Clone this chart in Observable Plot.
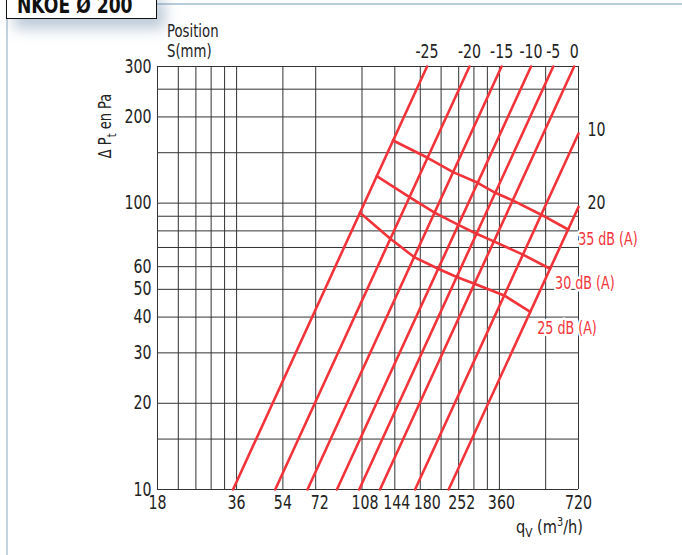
<!DOCTYPE html>
<html>
<head>
<meta charset="utf-8">
<script src="https://cdn.jsdelivr.net/npm/d3@7"></script>
<script src="https://cdn.jsdelivr.net/npm/@observablehq/plot@0.6"></script>
<style>
  html, body { margin: 0; padding: 0; background: #fff; }
  #page { position: relative; width: 682px; height: 555px; overflow: hidden; }
  #frame-top { position: absolute; left: 150px; top: 3px; width: 540px; height: 2px; background: #b9ccda; }
  #frame-left { position: absolute; left: 6px; top: 10px; width: 2px; height: 560px; background: #c3d3df; }
  #title {
    position: absolute; left: 6px; top: -11px; width: 151px; height: 30px;
    border: 1.5px solid #111; background: #fff;
    box-shadow: 8px 10px 14px rgba(110, 140, 170, 0.45);
    box-sizing: border-box; z-index: 2; overflow: hidden;
  }
  #title span {
    position: absolute; left: 10px; top: 4px; white-space: nowrap;
    font-family: "DejaVu Sans", sans-serif; font-stretch: condensed;
    font-weight: bold; font-size: 23px; line-height: 1; color: #111;
    transform: scaleX(0.83); transform-origin: left center;
  }
  #chart { position: absolute; left: 0; top: 0; }
</style>
</head>
<body>
<div id="page">
  <div id="frame-top"></div>
  <div id="frame-left"></div>
  <div id="chart"></div>
  <div id="title"><span>NKOE Ø 200</span></div>
</div>
<script>
// Flow axis (m³/h), pressure axis (Pa)
const xTicks = [18, 36, 54, 72, 108, 144, 180, 252, 360, 720];
const xGrid = [18, 21.6, 25.2, 28.8, 32.4, 36, 54, 72, 108, 144, 180, 216, 252, 288, 324, 360, 540, 720];
const yTicks = [10, 20, 30, 40, 50, 60, 100, 200, 300];
const yGrid = [10, 15, 20, 30, 40, 50, 60, 70, 80, 90, 100, 150, 200, 250, 300];

// Damper position lines S (mm): flow at 10 Pa and the end point of each line
const positions = ["-25", "-20", "-15", "-10", "-5", "0", "10", "20"];
const qLow = [34.9, 50.5, 67, 86.7, 105.4, 126.5, 172, 230.8];
const qHigh = [191, 277, 367, 475, 577, 693, 720, 720];
const pHigh = [300, 300, 300, 300, 300, 300, 175, 97];

// Sound level curves: pressure where each curve meets each position line
const noiseLabels = ["35 dB (A)", "30 dB (A)", "25 dB (A)"];
const noise35 = [165.5, 144, 128.3, 117.8, 108.7, 102.2, 91.1, 80.9];
const noise30 = [124.2, 105, 92.6, 84, 78.2, 73.5, 66.1, 59.0];
const noise25 = [92.6, 75.1, 64.8, 59.0, 55.2, 52.3, 47.6, 41.7];

const red = "#f2333a";
const ink = "#222";
const font = "'DejaVu Sans', sans-serif";

// Position lines as two-point segments
const posLines = positions.flatMap((s, i) => [
  {s, q: qLow[i], p: 10},
  {s, q: qHigh[i], p: pHigh[i]}
]);

// Point on position line i at pressure p (straight line on log-log axes)
function qOnLine(i, p) {
  const la = Math.log(qLow[i]), lb = Math.log(qHigh[i]);
  const pa = Math.log(10), pb = Math.log(pHigh[i]);
  return Math.exp(la + (Math.log(p) - pa) * (lb - la) / (pb - pa));
}
const noiseSets = [noise35, noise30, noise25];
const noisePts = noiseSets.flatMap((arr, k) =>
  arr.map((p, i) => ({level: noiseLabels[k], q: qOnLine(i, p), p}))
);
const noiseEnds = noiseSets.map((arr, k) => {
  const i = arr.length - 1;
  return {level: noiseLabels[k], q: qOnLine(i, arr[i]), p: arr[i]};
});
const noiseDx = [10, 5, 7];
const noiseDy = [10, 15, 17];

const topLabels = positions.map((s, i) => ({s, q: qHigh[i], p: pHigh[i]})).filter(d => d.p === 300);
const sideLabels = positions.map((s, i) => ({s, q: qHigh[i], p: pHigh[i]})).filter(d => d.p !== 300);

// small horizontal nudges keep the crowded flow labels apart
const xLabelNudge = {72: 4, 108: 3, 144: 2, 180: 7, 252: 3, 360: 2};

const textStyle = {fontFamily: font, fontStretch: "condensed"};

const chart = Plot.plot({
  width: 682,
  height: 555,
  marginLeft: 157,
  marginRight: 104,
  marginTop: 66,
  marginBottom: 66,
  style: {fontFamily: font, fontStretch: "condensed", fontSize: "17px", color: ink, background: "transparent"},
  x: {type: "log", domain: [18, 720], axis: null},
  y: {type: "log", domain: [10, 300], axis: null},
  marks: [
    Plot.ruleX(xGrid, {x: d => d, stroke: "#333", strokeWidth: 1}),
    Plot.ruleY(yGrid, {y: d => d, stroke: "#333", strokeWidth: 1}),
    Plot.line(posLines, {x: "q", y: "p", z: "s", stroke: red, strokeWidth: 2.6}),
    Plot.line(noisePts, {x: "q", y: "p", z: "level", stroke: red, strokeWidth: 2.6}),
    ...noiseEnds.map((d, k) => Plot.text([d], {
      x: "q", y: "p", text: "level", dx: noiseDx[k], dy: noiseDy[k], textAnchor: "start",
      fill: red, stroke: "white", strokeWidth: 5, fontSize: 17, ...textStyle
    })),
    Plot.text(topLabels, {x: "q", y: "p", text: "s", dy: -15, fill: ink, fontSize: 19, ...textStyle}),
    Plot.text(sideLabels, {x: "q", y: "p", text: "s", dx: 9, dy: -4, textAnchor: "start", fill: ink, fontSize: 19, ...textStyle}),
    // flow tick labels below the grid
    ...xTicks.map(v => Plot.text([v], {
      x: d => d, frameAnchor: "bottom", lineAnchor: "top", dy: 6, dx: xLabelNudge[v] || 0,
      text: d => String(d), fill: ink, fontSize: 19, ...textStyle
    })),
    // pressure tick labels left of the grid
    Plot.text(yTicks, {
      y: d => d, frameAnchor: "left", textAnchor: "end", dx: -6,
      text: d => String(d), fill: ink, fontSize: 19, ...textStyle
    })
  ]
});
document.getElementById("chart").appendChild(chart);

// Narrow the glyphs horizontally around each text's own anchor
function squeeze(node, s) {
  const tr = node.getAttribute("transform");
  if (tr) {
    node.setAttribute("transform", `${tr} scale(${s},1)`);
  } else {
    const x = +node.getAttribute("x") || 0, y = +node.getAttribute("y") || 0;
    node.setAttribute("transform", `translate(${x},${y}) scale(${s},1) translate(${-x},${-y})`);
  }
}
const svg = d3.select(chart);
svg.selectAll("text").each(function() { squeeze(this, 0.83); });

// Axis titles with subscripts
const yTitle = svg.append("text")
  .attr("transform", "translate(111,126) rotate(-90) scale(0.85,1)")
  .attr("text-anchor", "middle")
  .attr("font-family", font).attr("font-stretch", "condensed")
  .attr("font-size", 17).attr("fill", ink);
yTitle.append("tspan").text("Δ P");
yTitle.append("tspan").attr("font-size", 13).attr("dy", 5).text("t");
yTitle.append("tspan").attr("dy", -5).text(" en Pa");

const xTitle = svg.append("text")
  .attr("transform", "translate(516,533) scale(0.9,1)")
  .attr("text-anchor", "start")
  .attr("font-family", font).attr("font-stretch", "condensed")
  .attr("font-size", 18).attr("fill", ink);
xTitle.append("tspan").text("q");
xTitle.append("tspan").attr("font-size", 13).attr("dy", 4).text("V");
xTitle.append("tspan").attr("dy", -4).text(" (m");
xTitle.append("tspan").attr("font-size", 12).attr("dy", -7).text("3");
xTitle.append("tspan").attr("dy", 7).text("/h)");

[["Position", 37], ["S(mm)", 57]].forEach(([t, y]) => {
  svg.append("text")
    .attr("transform", `translate(167,${y}) scale(0.82,1)`)
    .attr("text-anchor", "start")
    .attr("font-family", font).attr("font-stretch", "condensed")
    .attr("font-size", 18).attr("fill", ink)
    .text(t);
});
</script>
</body>
</html>
